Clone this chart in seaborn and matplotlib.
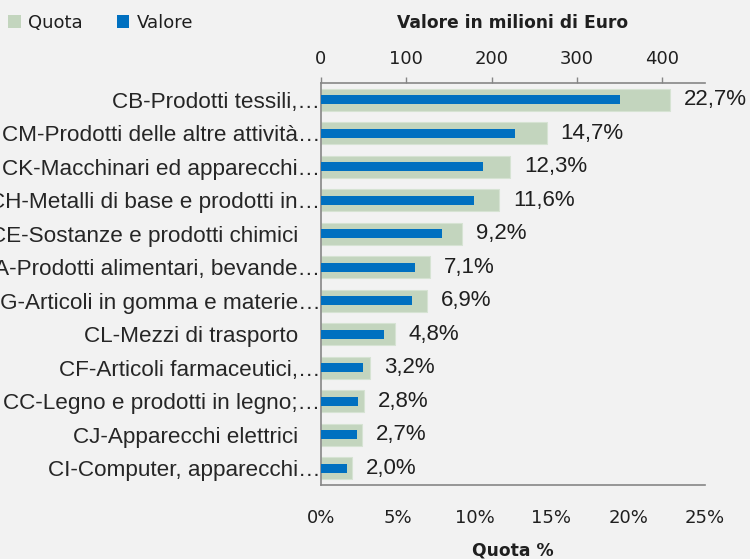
import numpy as np
import pandas as pd
import seaborn as sns
import matplotlib
matplotlib.use("Agg")
import matplotlib.pyplot as plt
from matplotlib.patches import Patch
from matplotlib.ticker import FuncFormatter

# ---- data ----
categories = [
    "CB-Prodotti tessili,…",
    "CM-Prodotti delle altre attività…",
    "CK-Macchinari ed apparecchi…",
    "CH-Metalli di base e prodotti in…",
    "CE-Sostanze e prodotti chimici",
    "CA-Prodotti alimentari, bevande…",
    "CG-Articoli in gomma e materie…",
    "CL-Mezzi di trasporto",
    "CF-Articoli farmaceutici,…",
    "CC-Legno e prodotti in legno;…",
    "CJ-Apparecchi elettrici",
    "CI-Computer, apparecchi…",
]
quota = [22.7, 14.7, 12.3, 11.6, 9.2, 7.1, 6.9, 4.8, 3.2, 2.8, 2.7, 2.0]
valore = [350, 227, 190, 179, 142, 110, 107, 74, 49, 43, 42, 31]
quota_labels = [f"{q:.1f}%".replace(".", ",") for q in quota]
quota_ticks = [0, 5, 10, 15, 20, 25]
valore_ticks = [0, 100, 200, 300, 400]

GREEN = "#C3D5BE"
BLUE = "#0070C0"
BG = "#F2F2F2"
AXIS = "#868686"
TXT = "#1F1F1F"

df = pd.DataFrame({"cat": categories, "quota": quota, "valore": valore})

W, H = 750, 559
fig = plt.figure(figsize=(W / 100, H / 100), dpi=100, facecolor=BG)
ax = fig.add_axes([321 / W, 1 - 485 / H, 384 / W, 402 / H])
ax.set_facecolor(BG)

sns.barplot(data=df, x="quota", y="cat", orient="h", color=GREEN, saturation=1,
            width=0.66, edgecolor="#D6E3D3", linewidth=0.8, ax=ax)
ax.set_xlim(0, 25)
ax.set_xticks(quota_ticks)
ax.xaxis.set_major_formatter(FuncFormatter(lambda v, p: f"{v:.0f}%"))
ax.tick_params(axis="x", length=0, pad=17, labelsize=13, labelcolor=TXT)
ax.set_xlabel("Quota %", fontsize=12.3, fontweight="bold", color=TXT, labelpad=11)
ax.set_ylabel("")

ax.tick_params(axis="y", length=0, labelsize=16.2, labelcolor="#262626")
for lab in ax.get_yticklabels():
    lab.set_family("Liberation Sans")
for t, c in zip(ax.yaxis.get_major_ticks(), categories):
    t.set_pad(0.5 if c.endswith("…") else 16.5)

for s in ["top", "right"]:
    ax.spines[s].set_visible(False)
for s in ["left", "bottom"]:
    ax.spines[s].set_color(AXIS)
    ax.spines[s].set_linewidth(1.2)

ax.bar_label(ax.containers[0], labels=quota_labels, padding=10, fontsize=16,
             family="Liberation Sans", color=TXT)

ax2 = ax.twiny()
sns.barplot(data=df, x="valore", y="cat", orient="h", color=BLUE, saturation=1,
            width=0.27, linewidth=0, ax=ax2)
ax2.set_xlim(0, 450)
ax2.set_xticks(valore_ticks)
ax2.tick_params(axis="x", direction="out", length=4.5, width=1, color=AXIS,
                labelsize=13, labelcolor=TXT, pad=6)
ax2.set_xlabel("Valore in milioni di Euro", fontsize=12.3, fontweight="bold",
               color=TXT, labelpad=16)
for s in ["bottom", "left", "right"]:
    ax2.spines[s].set_visible(False)
ax2.spines["top"].set_color(AXIS)
ax2.spines["top"].set_linewidth(1.2)

handles = [Patch(facecolor=GREEN, edgecolor="none", label="Quota"),
           Patch(facecolor=BLUE, edgecolor="none", label="Valore")]
fig.legend(handles=handles, loc="upper left", bbox_to_anchor=(8 / W, 1 - 14 / H),
           ncol=2, frameon=False, fontsize=13, handlelength=0.7, handleheight=0.7,
           handletextpad=0.4, columnspacing=1.9, borderpad=0, borderaxespad=0,
           labelcolor=TXT)

fig.savefig("out.png", dpi=100, facecolor=BG)
